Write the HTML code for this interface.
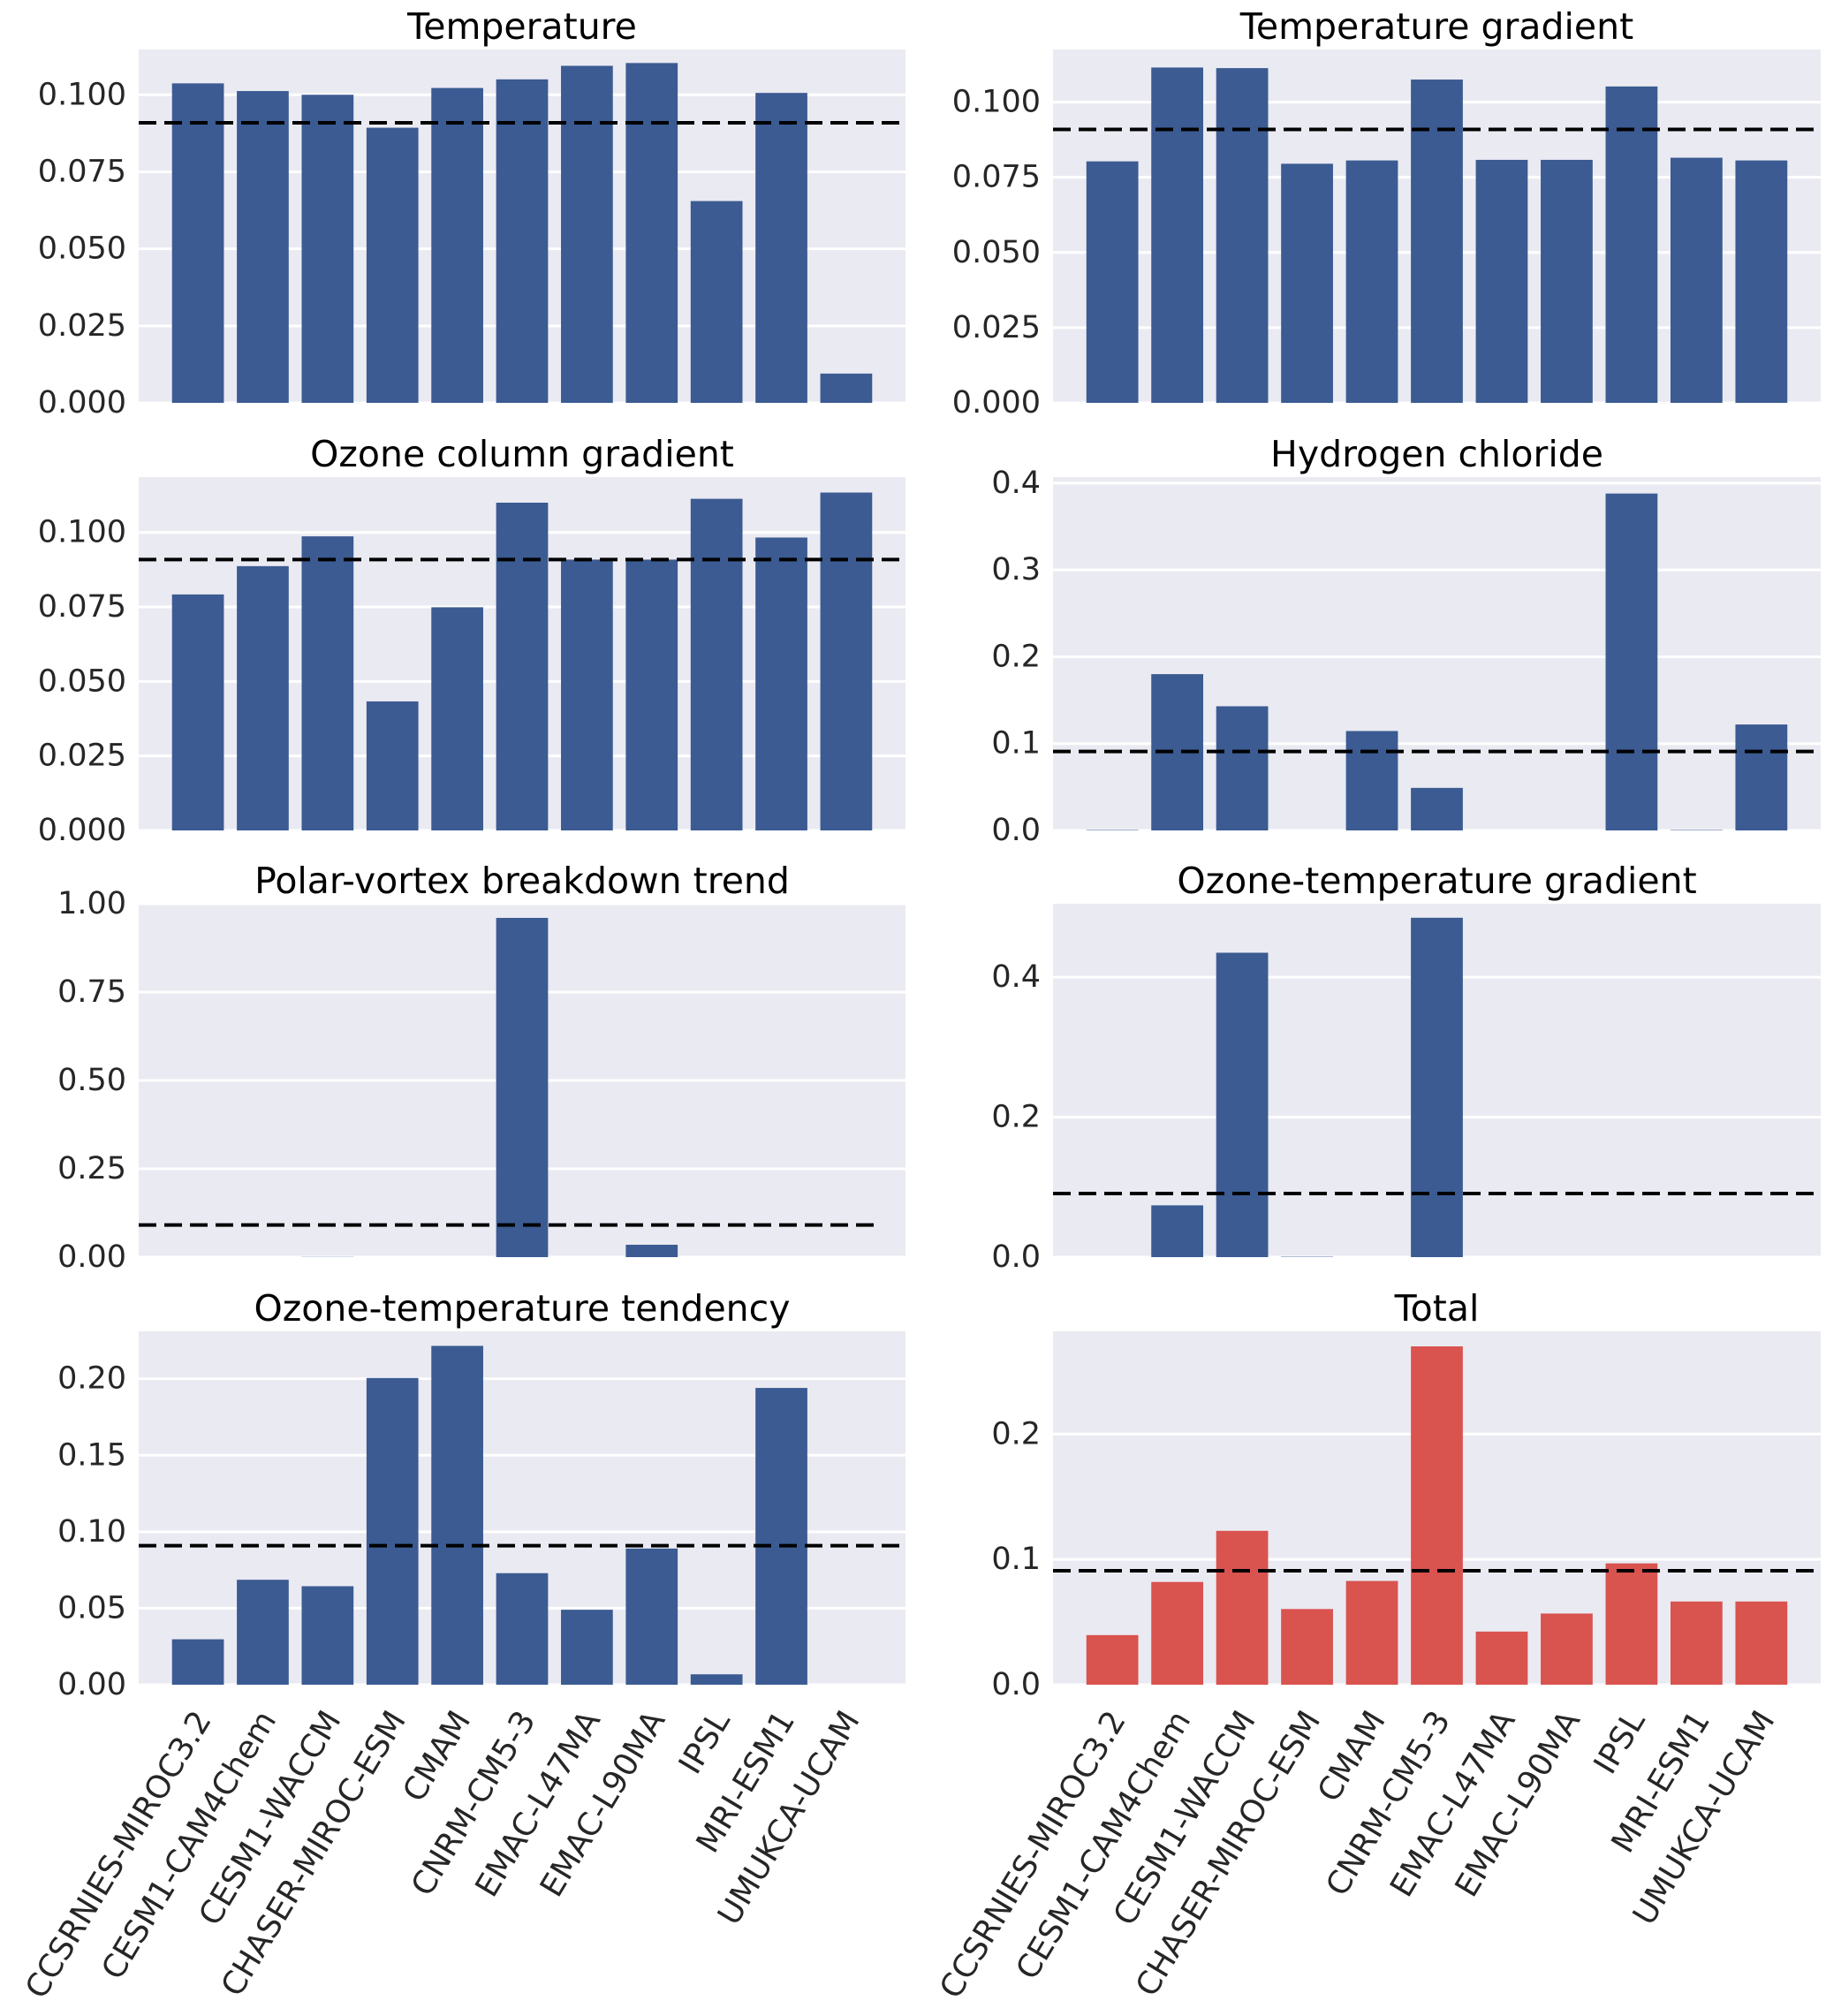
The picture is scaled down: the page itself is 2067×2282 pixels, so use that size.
<!DOCTYPE html>
<html><head><meta charset="utf-8"><style>
html,body{margin:0;padding:0;background:#fff;}
svg{display:block;font-family:"DejaVu Sans","Liberation Sans",sans-serif;}
</style></head><body>
<svg id="chart" width="2067" height="2282" viewBox="0 0 2067 2282" xmlns="http://www.w3.org/2000/svg"></svg>
<script>
const categories = ["CCSRNIES-MIROC3.2","CESM1-CAM4Chem","CESM1-WACCM","CHASER-MIROC-ESM","CMAM","CNRM-CM5-3","EMAC-L47MA","EMAC-L90MA","IPSL","MRI-ESM1","UMUKCA-UCAM"];
const titles = ["Temperature","Temperature gradient","Ozone column gradient","Hydrogen chloride","Polar-vortex breakdown trend","Ozone-temperature gradient","Ozone-temperature tendency","Total"];
const valsTemperature = [0.1037,0.1012,0.1000,0.0893,0.1022,0.1050,0.1094,0.1103,0.0655,0.1006,0.0095];
const valsTempGradient = [0.0803,0.1115,0.1113,0.0795,0.0806,0.1075,0.0808,0.0808,0.1052,0.0815,0.0806];
const valsOzoneColumn = [0.0792,0.0887,0.0987,0.0433,0.0749,0.1100,0.0909,0.0909,0.1113,0.0983,0.1134];
const valsHCl = [0.0005,0.180,0.143,0,0.1145,0.049,0,0,0.388,0.0005,0.122];
const valsPolarVortex = [0,0,0.0005,0,0,0.960,0,0.035,0,0,0];
const valsOzoneTempGrad = [0,0.074,0.435,0.0005,0,0.485,0,0,0,0,0];
const valsOzoneTempTend = [0.0297,0.0686,0.0644,0.2005,0.2215,0.0729,0.0490,0.0890,0.0068,0.1940,0];
const valsTotal = [0.0396,0.0820,0.1228,0.0604,0.0828,0.2700,0.0424,0.0568,0.0968,0.0664,0.0664];
const meanLine = [1/11,1/11,1/11,1/11,1/11,1/11,1/11,1/11];
const yMax = [0.1147,0.1175,0.1186,0.407,1.0,0.505,0.231,0.282];
const yTicks = [
 ["0.000","0.025","0.050","0.075","0.100"],
 ["0.000","0.025","0.050","0.075","0.100"],
 ["0.000","0.025","0.050","0.075","0.100"],
 ["0.0","0.1","0.2","0.3","0.4"],
 ["0.00","0.25","0.50","0.75","1.00"],
 ["0.0","0.2","0.4"],
 ["0.00","0.05","0.10","0.15","0.20"],
 ["0.0","0.1","0.2"]
];
const series=[valsTemperature,valsTempGradient,valsOzoneColumn,valsHCl,valsPolarVortex,valsOzoneTempGrad,valsOzoneTempTend,valsTotal];

const NS="http://www.w3.org/2000/svg";
const svg=document.getElementById('chart');
function mk(tag,attrs,parent){const e=document.createElementNS(NS,tag);for(const k in attrs)e.setAttribute(k,attrs[k]);(parent||svg).appendChild(e);return e;}
const colL=[157,1025], colR=[1192,2061];
const rowTops=[56,540,1023,1507], rowH=400;
for(let p=0;p<8;p++){
  const col=p%2===0?colL:colR, top=rowTops[Math.floor(p/2)], bot=top+rowH;
  const g=mk('g',{});
  
  
  const x0=col[0], x1=col[1], lo=-0.914, hi=10.914;
  const xs=v=>x0+(v-lo)/(hi-lo)*(x1-x0);
  const ys=v=>bot-v/yMax[p]*rowH;
  const bg=mk('rect',{x:x0,y:top,width:x1-x0,height:rowH,fill:'#eaeaf2'},g);
  
  
  yTicks[p].forEach(t=>{
    const v=parseFloat(t), y=ys(v);
    const gl=mk('line',{x1:x0,x2:x1,y1:y,y2:y,stroke:'#fff','stroke-width':3},g);
    
    
    const tl=mk('text',{x:x0-14,y:y,'text-anchor':'end','dominant-baseline':'central','font-size':35,fill:'#262626'},g);
    tl.textContent=t;
    
    
  });
  const color=p===7?'#d9534f':'#3b5b92';
  series[p].forEach((v,i)=>{
    const h=Math.max(0,bot-ys(v));
    const b=mk('rect',{x:xs(i-0.4),y:bot-h,width:xs(0.4)-xs(-0.4),height:h,fill:color},g);
    
    
  });
  const dEnd=p===4?993:x1;
  const dl=mk('line',{x1:x0,x2:dEnd,y1:ys(meanLine[p]),y2:ys(meanLine[p]),stroke:'#000','stroke-width':4,'stroke-dasharray':'20 9'},g);
  
  
  const tt=mk('text',{x:(x0+x1)/2,y:top-12,'text-anchor':'middle','font-size':41,fill:'#000'},g);
  tt.textContent=titles[p];
  
  
  if(p>=6){
    categories.forEach((c,i)=>{
      const ax=xs(i)-6, ay=bot+26;
      const xl=mk('text',{x:ax,y:ay,'text-anchor':'end','dominant-baseline':'hanging','font-size':36,fill:'#262626',transform:`rotate(-59 ${ax} ${ay})`},g);
      xl.textContent=c;
      
      
    });
  }
}
</script>
</body></html>
